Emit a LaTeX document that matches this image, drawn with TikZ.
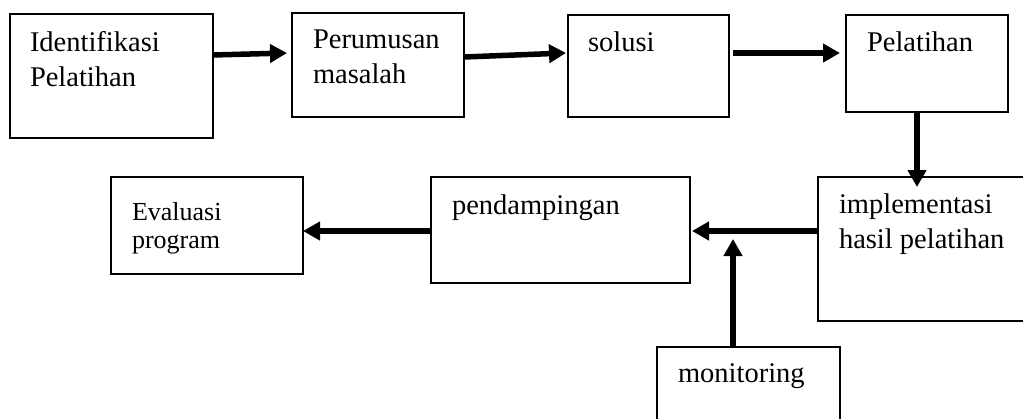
\documentclass[tikz,border=0pt]{standalone}
\usepackage{fontspec}
\setmainfont{Liberation Serif}
\usetikzlibrary{arrows.meta,calc}
\tikzset{
  box/.style={draw=black, line width=1.6pt, inner sep=0pt, outer sep=0pt, anchor=north west},
  lbl/.style={inner sep=0pt, outer sep=0pt, anchor=base west, align=left, font=\fontsize{28.5}{35}\selectfont},
  lblt/.style={inner sep=0pt, outer sep=0pt, anchor=base west, align=left, font=\fontsize{26}{28}\selectfont},
  arr/.style={line width=5.5pt, -{Triangle[length=17pt,width=18pt]}},
}
\begin{document}
\begin{tikzpicture}[x=1pt,y=-1pt]
\path[use as bounding box, clip] (0,0) rectangle (1023,418);
\fill[white] (0,0) rectangle (1023,418);
% boxes
\node[box, minimum width=203pt, minimum height=124pt] (b1) at (10,14) {};
\node[box, minimum width=172pt, minimum height=104pt] (b2) at (292,13) {};
\node[box, minimum width=161pt, minimum height=102pt] (b3) at (568,15) {};
\node[box, minimum width=162pt, minimum height=97pt] (b4) at (846,15) {};
\node[box, minimum width=222pt, minimum height=144pt] (b5) at (818,177) {};
\node[box, minimum width=259pt, minimum height=106pt] (b6) at (431,177) {};
\node[box, minimum width=192pt, minimum height=97pt] (b7) at (111,177) {};
\node[box, minimum width=183pt, minimum height=90pt] (b8) at (657,347) {};
% labels (base anchor = baseline of the last line)
\node[lbl] (t1) at (30,86) {Identifikasi\\Pelatihan};
\node[lbl] (t2) at (313,83) {Perumusan\\masalah};
\node[lbl] (t3) at (588,51) {solusi};
\node[lbl] (t4) at (867,51) {Pelatihan};
\node[lbl] (t5) at (839,248) {implementasi\\hasil pelatihan};
\node[lbl] (t6) at (452,214) {pendampingan};
\node[lblt] (t7) at (132,248) {Evaluasi\\program};
\node[lbl] (t8) at (678,382) {monitoring};
% connectors
\coordinate (c3) at ($(b3.north east)+(4,38)$);
\coordinate (m) at ($(b6.north east)+(43,62)$);
\draw[arr] ($(b1.north east)+(0,41)$) -- ($(b2.north west)+(-5,40)$);
\draw[arr] ($(b2.north east)+(0,44)$) -- ($(b3.north west)+(-2,38)$);
\draw[arr] (c3) -- ($(b4.north west)+(-6,38)$);
\draw[arr] ($(b4.south)+(-10,0)$) -- ($(b5.north west)+(99,10)$);
\draw[arr] ($(b5.north west)+(0,54)$) -- ($(b6.north east)+(2,54)$);
\draw[arr] ($(b6.north west)+(0,54)$) -- ($(b7.north east)+(0,54)$);
\draw[arr] ($(b8.north west)+(76,0)$) -- (m);
\end{tikzpicture}
\end{document}
